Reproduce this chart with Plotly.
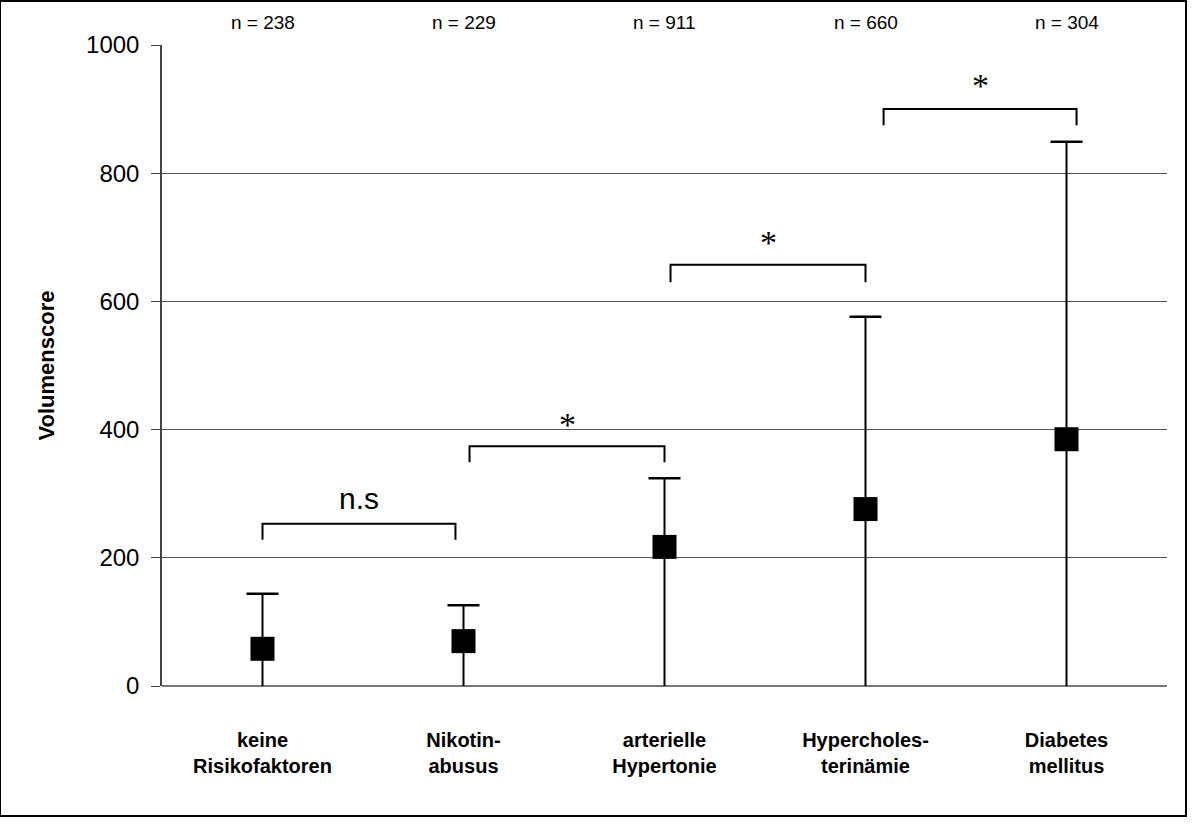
import plotly.graph_objects as go

# Risk-factor groups and their volume score summary
categories = ["keine<br>Risikofaktoren", "Nikotin-<br>abusus", "arterielle<br>Hypertonie",
              "Hypercholes-<br>terinämie", "Diabetes<br>mellitus"]
n_counts = [238, 229, 911, 660, 304]
center_values = [58, 70, 217, 276, 385]
upper_values = [144, 126, 324, 576, 849]

# Significance brackets: (left, right, top, leg bottom, label, label height)
bracket_left = [0.0, 1.03, 2.03, 3.09]
bracket_right = [0.96, 2.0, 3.0, 4.05]
bracket_top = [253, 374, 657, 900]
bracket_leg = [228, 349, 630, 875]
bracket_label = ["n.s", "*", "*", "*"]
label_height = [292, 408, 692, 937]

FONT = "Liberation Sans, Arial"

x_pos = list(range(len(categories)))
zeros = [0] * len(categories)

fig = go.Figure()

# whisker from zero up to the upper value, without caps
fig.add_trace(go.Scatter(
    x=x_pos, y=upper_values, mode="markers",
    marker=dict(size=1, color="rgba(0,0,0,0)"),
    error_y=dict(type="data", array=zeros, arrayminus=upper_values,
                 symmetric=False, color="black", thickness=2, width=0),
    showlegend=False, hoverinfo="skip",
))
# cap at the upper value only
fig.add_trace(go.Scatter(
    x=x_pos, y=upper_values, mode="markers",
    marker=dict(size=1, color="rgba(0,0,0,0)"),
    error_y=dict(type="data", array=zeros, arrayminus=zeros,
                 symmetric=False, color="black", thickness=2.5, width=16),
    showlegend=False, hoverinfo="skip",
))
# square marker at the central value
fig.add_trace(go.Scatter(
    x=x_pos, y=center_values, mode="markers",
    marker=dict(symbol="square", size=24, color="black"),
    showlegend=False, hoverinfo="skip",
))

for l, r, t, b, lab, lh in zip(bracket_left, bracket_right, bracket_top,
                               bracket_leg, bracket_label, label_height):
    fig.add_trace(go.Scatter(
        x=[l, l, r, r], y=[b, t, t, b], mode="lines",
        line=dict(color="black", width=2), showlegend=False, hoverinfo="skip",
    ))
    if lab == "n.s":
        fnt = dict(size=30, color="black", family=FONT)
    else:
        fnt = dict(size=34, color="black", family="Liberation Serif, Times New Roman")
    fig.add_annotation(x=(l + r) / 2, y=lh, text=lab, showarrow=False,
                       yanchor="middle", font=fnt)

for i, n in enumerate(n_counts):
    fig.add_annotation(
        x=i, y=1.0, yref="paper", yanchor="middle", yshift=23,
        text=f"n = {n}", showarrow=False,
        font=dict(size=19, color="black", family=FONT),
    )

fig.update_layout(
    width=1192, height=826,
    margin=dict(l=162, r=25, t=45, b=140),
    paper_bgcolor="white", plot_bgcolor="white",
    font=dict(family=FONT, color="black"),
    xaxis=dict(
        range=[-0.5, 4.5], tickvals=x_pos, ticktext=categories,
        tickfont=dict(size=20, weight="bold"), ticks="", showgrid=False,
        zeroline=False, showline=False, ticklabelstandoff=40,
    ),
    yaxis=dict(
        range=[0, 1000], tickvals=[0, 200, 400, 600, 800, 1000],
        tickfont=dict(size=24), ticks="outside", ticklen=9, tickcolor="#444",
        ticklabelstandoff=7,
        showgrid=True, gridcolor="#555", gridwidth=1, zeroline=True,
        zerolinecolor="#777", zerolinewidth=1.5,
        showline=True, linecolor="#444", linewidth=1.5,
        title=dict(text="Volumenscore", font=dict(size=22, weight="bold"),
                   standoff=25),
    ),
    shapes=[dict(type="rect", xref="paper", yref="paper", layer="above",
                 x0=-162 / 1005, x1=1.0 + 19 / 1005, y0=-130 / 641, y1=1 + 44 / 641,
                 line=dict(color="black", width=2))],
)

fig.write_html("out.html")
